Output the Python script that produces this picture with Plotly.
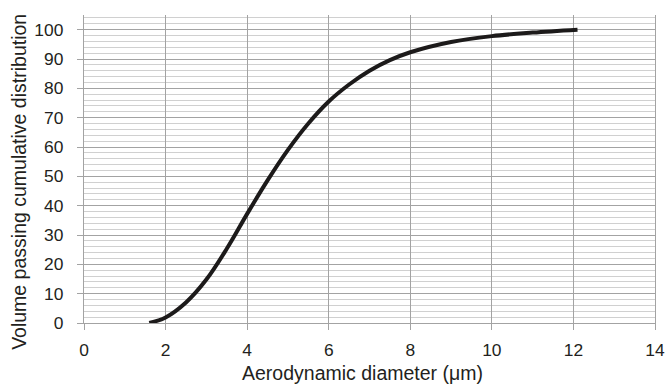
import plotly.graph_objects as go

# Data
diameter = [1.6, 2.0, 2.5, 3.0, 3.5, 4.0, 4.5, 5.0, 5.5, 6.0, 6.5, 7.0, 7.5, 8.0, 9.0, 10.0, 11.0, 12.1]
cumulative = [0, 1.9, 7.0, 14.8, 25.3, 37.2, 48.6, 59.0, 68.0, 75.5, 81.3, 86.0, 89.6, 92.3, 95.8, 97.8, 99.0, 100]

x_ticks = [0, 2, 4, 6, 8, 10, 12, 14]
y_ticks = [0, 10, 20, 30, 40, 50, 60, 70, 80, 90, 100]
x_title = "Aerodynamic diameter (\u03bcm)"
y_title = "Volume passing cumulative distribution"

font_family = "Liberation Sans, Arial, sans-serif"
text_color = "#231f20"
major = "#a3a3a3"
minor = "#d0d0d0"

fig = go.Figure()
fig.add_trace(go.Scatter(
    x=diameter, y=cumulative, mode="lines",
    line=dict(color="#1c1a1a", width=4, shape="spline", smoothing=1.0),
    showlegend=False,
))

fig.update_layout(
    width=669, height=387,
    margin=dict(l=84, r=14, t=15, b=64),
    paper_bgcolor="white", plot_bgcolor="white",
    font=dict(family=font_family, size=17, color=text_color),
)
fig.update_xaxes(
    range=[0, 14], tickvals=x_ticks, ticktext=[str(v) for v in x_ticks],
    showgrid=True, gridcolor=major, gridwidth=1.3,
    zeroline=False, showline=True, linecolor=major, linewidth=1.3, mirror=False,
    ticks="outside", ticklen=6, tickcolor=major, tickwidth=1.3,
    ticklabelstandoff=5, automargin=False,
    tickfont=dict(size=17.4),
)
fig.update_yaxes(
    range=[0, 105], tickvals=y_ticks, ticktext=[str(v) for v in y_ticks],
    showgrid=True, gridcolor=major, gridwidth=1.3,
    minor=dict(dtick=2, tick0=0, showgrid=True, gridcolor=minor, gridwidth=1),
    zeroline=False, showline=True, linecolor=major, linewidth=1.3, mirror=True,
    ticks="outside", ticklen=6, tickcolor=major, tickwidth=1.3,
    ticklabelstandoff=10, automargin=False,
    tickfont=dict(size=17.4),
)

fig.add_annotation(
    text=x_title, xref="paper", yref="paper", x=0.4886, y=-0.163,
    xanchor="center", yanchor="middle", showarrow=False,
    font=dict(size=19.5, family=font_family, color=text_color),
)
fig.add_annotation(
    text=y_title, xref="paper", yref="paper", x=-0.114, y=0.458,
    xanchor="center", yanchor="middle", showarrow=False, textangle=-90,
    font=dict(size=19.5, family=font_family, color=text_color),
)

fig.write_html(
    "out.html",
    config={"displayModeBar": False},
    post_script="document.body.style.margin='0';document.body.style.padding='0';",
)
